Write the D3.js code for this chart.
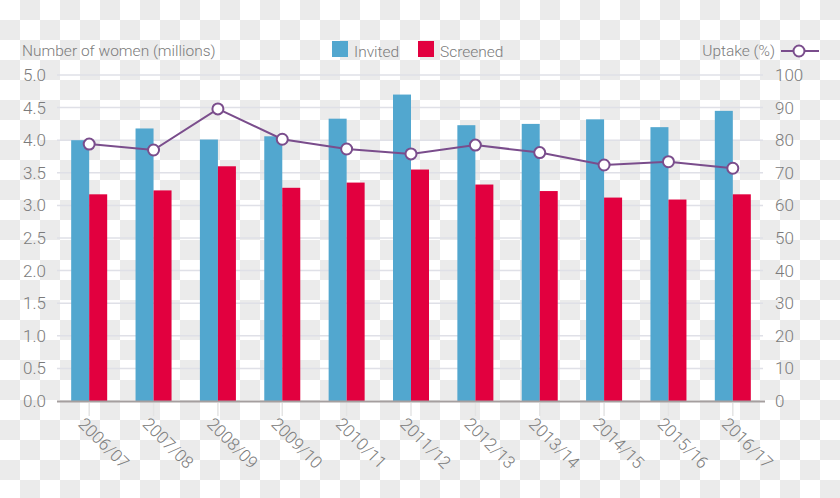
<!DOCTYPE html>
<html>
<head>
<meta charset="utf-8">
<script src="https://cdn.jsdelivr.net/npm/d3@7"></script>
<style>
	body { margin: 0; }
	svg { display: block; font-family: Roboto, 'Open Sans', sans-serif; font-weight: 300; }
</style>
</head>
<body>
<svg id="chart" width="840" height="498"></svg>
<script>

var years = ['2006/07', '2007/08', '2008/09', '2009/10', '2010/11', '2011/12',
	'2012/13', '2013/14', '2014/15', '2015/16', '2016/17']
var invited = [4.00, 4.18, 4.01, 4.06, 4.33, 4.70, 4.23, 4.25, 4.32, 4.20, 4.45]
var screened = [3.17, 3.23, 3.60, 3.27, 3.35, 3.55, 3.32, 3.22, 3.12, 3.09, 3.17]
var uptake = [78.8, 77.0, 89.6, 80.3, 77.3, 75.8, 78.5, 76.2, 72.4, 73.4, 71.4]
var leftTicks = [0, 0.5, 1, 1.5, 2, 2.5, 3, 3.5, 4, 4.5, 5]
var rightTicks = [0, 10, 20, 30, 40, 50, 60, 70, 80, 90, 100]

var blue = '#52a7cf'
var red = '#e2003f'
var purple = '#7a4d8c'
var textcol = '#7b7b7b'

var svg = d3.select('#chart')

// transparent-background checkerboard
var defs = svg.append('defs')
var pat = defs.append('pattern')
	.attr('id', 'checker')
	.attr('width', 40)
	.attr('height', 40)
	.attr('patternUnits', 'userSpaceOnUse')
pat.append('rect').attr('width', 40).attr('height', 40).attr('fill', '#fff')
pat.append('rect').attr('x', 20).attr('width', 20).attr('height', 20).attr('fill', '#ebebeb')
pat.append('rect').attr('y', 20).attr('width', 20).attr('height', 20).attr('fill', '#ebebeb')
svg.append('rect').attr('width', 840).attr('height', 498).attr('fill', 'url(#checker)')

var x0 = 57, x1 = 765
var x = d3.scaleBand().domain(years).range([x0, x1]).paddingInner(0).paddingOuter(0)
var y = d3.scaleLinear().domain([0, 5]).range([401, 75])
var y2 = d3.scaleLinear().domain([0, 100]).range([401, 75])
var bw = 18

// gridlines
svg.selectAll('.grid')
	.data(leftTicks.slice(1))
	.enter().append('line')
	.attr('class', 'grid')
	.attr('x1', x0)
	.attr('x2', 763)
	.attr('y1', d => y(d))
	.attr('y2', d => y(d))
	.attr('stroke', '#dfe0e7')
	.attr('stroke-width', 1.5)

// left axis labels
svg.append('g')
	.attr('transform', 'translate(46,0)')
	.call(d3.axisLeft(y).tickValues(leftTicks).tickFormat(d3.format('.1f')).tickSize(0).tickPadding(0))
	.call(g => g.select('.domain').remove())
	.selectAll('text')
	.attr('fill', textcol)
	.style('font-size', '17px')
	.style('font-family', 'Roboto, sans-serif')
	.style('font-weight', 300)

// right axis labels
svg.append('g')
	.attr('transform', 'translate(775,0)')
	.call(d3.axisRight(y2).tickValues(rightTicks).tickSize(0).tickPadding(0))
	.call(g => g.select('.domain').remove())
	.selectAll('text')
	.attr('fill', textcol)
	.style('font-size', '17px')
	.style('font-family', 'Roboto, sans-serif')
	.style('font-weight', 300)

var center = d => x(d) + x.bandwidth() / 2

// bars
svg.selectAll('.inv')
	.data(years)
	.enter().append('rect')
	.attr('class', 'inv')
	.attr('x', d => center(d) - bw)
	.attr('width', bw)
	.attr('y', (d, i) => y(invited[i]))
	.attr('height', (d, i) => y(0) - y(invited[i]))
	.attr('fill', blue)

svg.selectAll('.scr')
	.data(years)
	.enter().append('rect')
	.attr('class', 'scr')
	.attr('x', d => center(d))
	.attr('width', bw)
	.attr('y', (d, i) => y(screened[i]))
	.attr('height', (d, i) => y(0) - y(screened[i]))
	.attr('fill', red)

// baseline and x ticks
svg.append('line')
	.attr('x1', x0).attr('x2', x1)
	.attr('y1', y(0) + 0.5).attr('y2', y(0) + 0.5)
	.attr('stroke', '#a59f9f')
	.attr('stroke-width', 2)

svg.selectAll('.xtick')
	.data(years)
	.enter().append('line')
	.attr('x1', center).attr('x2', center)
	.attr('y1', y(0) + 2).attr('y2', y(0) + 15)
	.attr('stroke', '#e4e4e4')
	.attr('stroke-width', 1.5)

svg.selectAll('.xlab')
	.data(years)
	.enter().append('text')
	.attr('transform', d => 'translate(' + (center(d) - 12) + ',425) rotate(45)')
	.attr('fill', textcol)
	.style('font-size', '17px')
	.text(d => d)

// uptake line
var line = d3.line()
	.x((d, i) => center(years[i]))
	.y(d => y2(d))

svg.append('path')
	.datum(uptake)
	.attr('d', line)
	.attr('fill', 'none')
	.attr('stroke', purple)
	.attr('stroke-width', 2)

svg.selectAll('.dot')
	.data(uptake)
	.enter().append('circle')
	.attr('cx', (d, i) => center(years[i]))
	.attr('cy', d => y2(d))
	.attr('r', 5.5)
	.attr('fill', '#fff')
	.attr('stroke', purple)
	.attr('stroke-width', 2)

// legend / titles
svg.append('text')
	.attr('x', 22).attr('y', 56)
	.attr('fill', textcol)
	.style('font-size', '15.5px')
	.text('Number of women (millions)')

var leg = [{ label: 'Invited', col: blue, x: 332 }, { label: 'Screened', col: red, x: 418 }]
var lg = svg.selectAll('.leg')
	.data(leg)
	.enter().append('g')
	.attr('transform', d => 'translate(' + d.x + ',41)')
lg.append('rect')
	.attr('width', 16).attr('height', 16)
	.attr('fill', d => d.col)
lg.append('text')
	.attr('x', 22).attr('y', 16)
	.attr('fill', textcol)
	.style('font-size', '15.5px')
	.text(d => d.label)

svg.append('text')
	.attr('x', 775).attr('y', 56)
	.attr('text-anchor', 'end')
	.attr('fill', textcol)
	.style('font-size', '15.5px')
	.text('Uptake (%)')
svg.append('line')
	.attr('x1', 781).attr('x2', 819)
	.attr('y1', 51).attr('y2', 51)
	.attr('stroke', purple).attr('stroke-width', 2)
svg.append('circle')
	.attr('cx', 799).attr('cy', 51).attr('r', 5.5)
	.attr('fill', '#fff')
	.attr('stroke', purple).attr('stroke-width', 2)

</script>
</body>
</html>
